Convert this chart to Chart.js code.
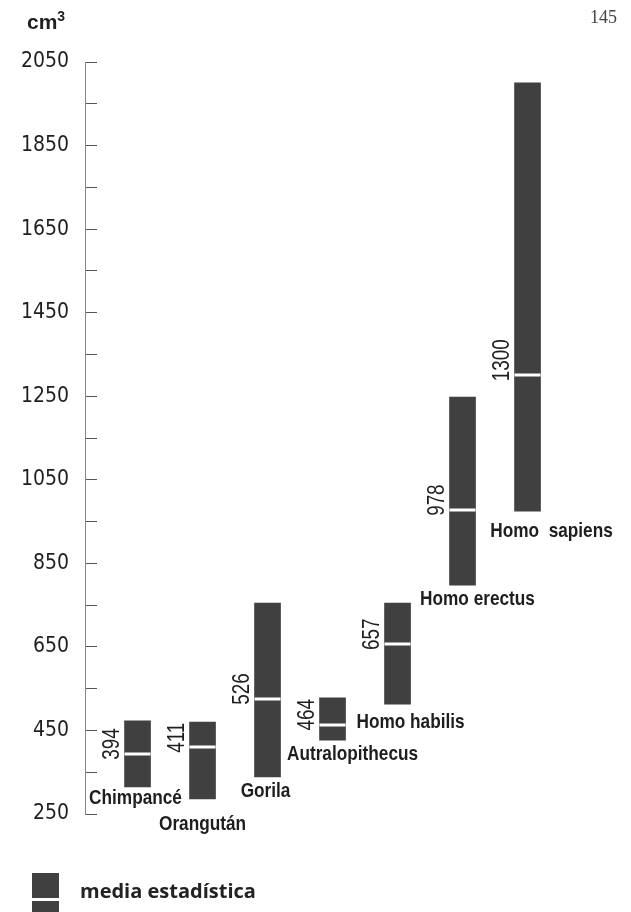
<!DOCTYPE html>
<html>
<head>
<meta charset="utf-8">
<script src="https://cdn.jsdelivr.net/npm/chart.js@4"></script>
<style>
  body { margin: 0; background: #fff; }
  #wrap { position: relative; width: 631px; height: 912px; overflow: hidden; }
  #chart { position: absolute; left: 0; top: 0; }
  .unit { position: absolute; left: 27px; top: 10px; font: bold 21px "Liberation Sans", Arial, sans-serif; color: #1e1e1e; }
  .unit span { position: relative; top: -8px; font-size: 14px; }
  .page { position: absolute; left: 590px; top: 7px; font: 18px "Liberation Serif", serif; color: #444; }
  .swatch { position: absolute; left: 32px; top: 873px; width: 27px; height: 40px; background: #404040; }
  .swatch::after { content: ''; position: absolute; left: 0; right: 0; top: 25px; height: 3px; background: #fff; }
  .legend-text { position: absolute; left: 80px; top: 877px; font: bold 20px "Open Sans", sans-serif; color: #222; }
</style>
</head>
<body>
<div id="wrap">
  <canvas id="chart" width="631" height="912"></canvas>
  <div class="unit">cm<span>3</span></div>
  <div class="page">145</div>
  <div class="swatch"></div>
  <div class="legend-text">media estadística</div>
</div>
<script>
const species = ['Chimpancé', 'Orangután', 'Gorila', 'Autralopithecus', 'Homo habilis', 'Homo erectus', 'Homo  sapiens'];
const lowValues = [315, 286, 339, 427, 513, 798, 975];
const highValues = [473, 470, 755, 528, 755, 1248, 2000];
const meanValues = [394, 411, 526, 464, 657, 978, 1300];
const yTickLabels = [250, 450, 650, 850, 1050, 1250, 1450, 1650, 1850, 2050];

const sans = '"Liberation Sans", Arial, sans-serif';
const narrowX = 0.82; // squeeze Liberation Sans into a narrow face
// where each species name sits relative to its bar (dx from centre, dy from bottom)
const nameNudge = [[-2, 2], [0, 16], [-2, 5], [20, 5], [13, 9], [15, 5], [24, 11]];

const annotate = {
    id: 'annotate',
    afterDatasetsDraw(chart) {
        const ctx = chart.ctx;
        const yScale = chart.scales.y;
        const bars = chart.getDatasetMeta(0).data;
        ctx.save();
        ctx.fillStyle = '#1e1e1e';
        ctx.textBaseline = 'alphabetic';
        bars.forEach((bar, i) => {
            const left = bar.x - bar.width / 2;
            const bottom = Math.max(bar.y, bar.base);
            const my = yScale.getPixelForValue(meanValues[i]);

            ctx.fillStyle = '#fff';
            ctx.fillRect(left, Math.round(my) - 1.5, bar.width, 3);
            ctx.fillStyle = '#1e1e1e';

            ctx.save();
            ctx.translate(left - 6, my + 6);
            ctx.rotate(-Math.PI / 2);
            ctx.scale(narrowX, 1);
            ctx.font = '23px ' + sans;
            ctx.textAlign = 'left';
            ctx.fillText(String(meanValues[i]), 0, 0);
            ctx.restore();

            const n = nameNudge[i];
            ctx.save();
            ctx.translate(bar.x + n[0], bottom + n[1] + 15);
            ctx.scale(narrowX, 1);
            ctx.font = 'bold 21px ' + sans;
            ctx.textAlign = 'center';
            ctx.fillText(species[i], 0, 0);
            ctx.restore();
        });
        ctx.restore();
    }
};

new Chart(document.getElementById('chart').getContext('2d'), {
    type: 'bar',
    data: {
        datasets: [{
            data: species.map((s, i) => ({ x: i + 1, y: [lowValues[i], highValues[i]] })),
            backgroundColor: '#404040',
            borderWidth: 0,
            barThickness: 26
        }]
    },
    options: {
        responsive: false,
        animation: false,
        devicePixelRatio: 1,
        layout: { padding: { left: 8, right: 31, top: 62, bottom: 98 } },
        plugins: {
            legend: { display: false },
            tooltip: { enabled: false }
        },
        scales: {
            x: { type: 'linear', offset: false, min: 0.192, max: 8.115, display: false },
            y: {
                min: 250,
                max: 2050,
                afterFit(scale) { scale.width = 77; },
                border: { color: '#888', width: 1 },
                grid: { drawOnChartArea: false, tickLength: -12, color: '#555', lineWidth: 1 },
                ticks: {
                    stepSize: 100,
                    maxTicksLimit: 20,
                    padding: 28,
                    color: '#1e1e1e',
                    font: { family: '"DejaVu Sans Condensed", sans-serif', size: 21 },
                    callback: v => yTickLabels.includes(v) ? String(v) : ''
                }
            }
        }
    },
    plugins: [annotate]
});
</script>
</body>
</html>
